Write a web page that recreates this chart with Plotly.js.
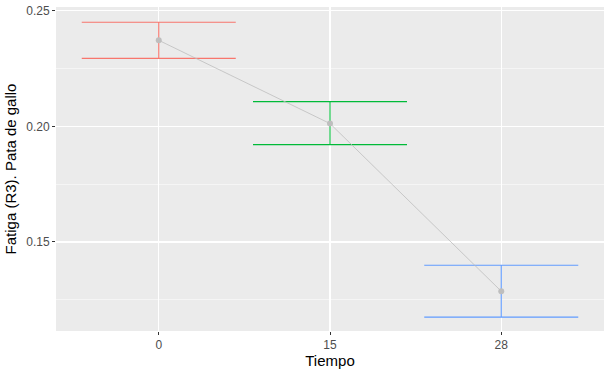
<!DOCTYPE html>
<html><head><meta charset="utf-8">
<script src="https://cdn.plot.ly/plotly-3.0.1.min.js"></script>
<style>body{margin:0;}#c{width:612px;height:377px;}</style>
</head><body><div id="c"></div>
<script>
const categories = ['0', '15', '28'];
const means = [0.2372, 0.2012, 0.1287];
const upper = [0.2450, 0.2107, 0.1399];
const lower = [0.2294, 0.1921, 0.1175];
const barColors = ['#F8766D', '#00BA38', '#619CFF'];

const traces = [];
categories.forEach((c, i) => {
  traces.push({
    x: [c], y: [means[i]], type: 'scatter', mode: 'markers',
    marker: {size: 1, opacity: 0},
    error_y: {type: 'data', symmetric: false,
      array: [upper[i] - means[i]], arrayminus: [means[i] - lower[i]],
      color: barColors[i], thickness: 1.1, width: 77},
    hoverinfo: 'none', showlegend: false
  });
});
traces.push({
  x: categories, y: means, type: 'scatter', mode: 'lines+markers',
  line: {color: '#BEBEBE', width: 0.8},
  marker: {color: '#BEBEBE', size: 6},
  showlegend: false
});

const layout = {
  width: 612, height: 377,
  margin: {l: 56, r: 8, t: 7, b: 46},
  paper_bgcolor: '#FFFFFF', plot_bgcolor: '#EBEBEB',
  font: {family: 'Liberation Sans, Arial, sans-serif'},
  showlegend: false,
  xaxis: {
    type: 'category', range: [-0.6, 2.6],
    showgrid: true, gridcolor: '#FFFFFF', gridwidth: 1.1,
    zeroline: false, showline: false,
    ticks: 'outside', ticklen: 3, tickwidth: 1, tickcolor: '#333333',
    tickfont: {size: 12, color: '#4D4D4D'},
    title: {text: 'Tiempo', font: {size: 15, color: '#000000'}, standoff: 4}
  },
  yaxis: {
    range: [0.1115, 0.2516],
    tickvals: [0.15, 0.20, 0.25], ticktext: ['0.15', '0.20', '0.25'],
    showgrid: true, gridcolor: '#FFFFFF', gridwidth: 1.1,
    minor: {tickvals: [0.125, 0.175, 0.225], showgrid: true, gridcolor: '#FFFFFF', gridwidth: 0.5, ticks: ''},
    zeroline: false, showline: false,
    ticks: 'outside', ticklen: 3, tickwidth: 1, tickcolor: '#333333',
    tickfont: {size: 12, color: '#4D4D4D'},
    title: {text: 'Fatiga (R3). Pata de gallo', font: {size: 15, color: '#000000'}, standoff: 5}
  }
};
Plotly.newPlot('c', traces, layout, {displayModeBar: false, staticPlot: true});
</script></body></html>
